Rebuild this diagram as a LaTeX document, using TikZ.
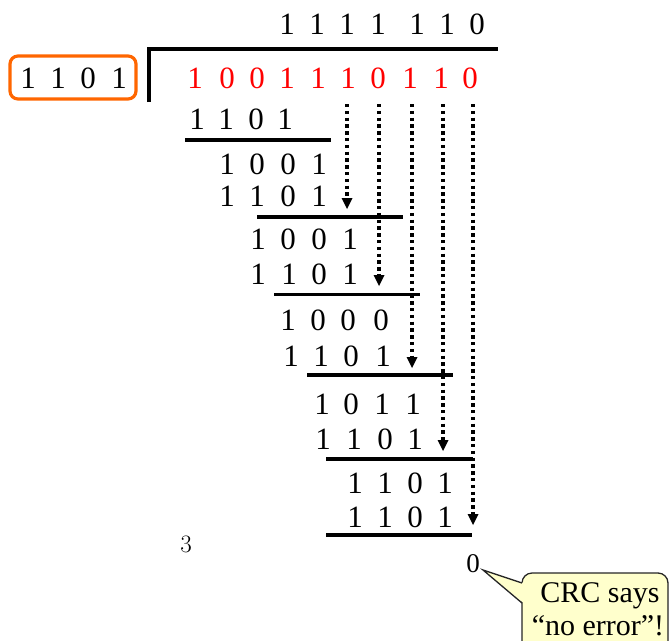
\documentclass[tikz,border=0pt]{standalone}
\usepackage{fontspec}
\setmainfont{Liberation Serif}
\newfontfamily\lmfont{Latin Modern Roman}
\usetikzlibrary{arrows.meta}
\definecolor{divred}{RGB}{255,0,0}
\definecolor{boxorange}{RGB}{255,102,0}
\definecolor{noteyellow}{RGB}{255,255,204}
\tikzset{
  bit/.style={anchor=base, inner sep=0pt, font=\fontsize{31}{36}\selectfont},
  redbit/.style={bit, text=divred},
  rule/.style={line width=3.4pt},
  bringdown/.style={line width=3.5pt, dash pattern=on 3.4pt off 3.4pt,
    -{Triangle[width=11pt,length=11pt,line width=0pt]}},
  notebox/.style={draw=black!85, line width=1.3pt, fill=noteyellow},
  notetext/.style={anchor=base, inner sep=0pt, font=\fontsize{30}{34}\selectfont},
}
\newcommand{\bitrow}[3]{% name prefix, baseline, list x/digit
  \foreach \x/\d [count=\i] in {#3} {\node[bit] (#1\i) at (\x,#2) {\d};}}
\begin{document}
\begin{tikzpicture}[x=1pt,y=-1pt]
\useasboundingbox (0,0) rectangle (671,640);
\clip (0,0) rectangle (671,640);

% quotient
\bitrow{q}{34}{287/1,317/1,347/1,378/1,417/1,447/1,477/0}

% division bracket
\draw[rule] (149,102) -- (149,49) -- (498,49);

% divisor (generator)
\bitrow{g}{88}{28/1,58/1,88/0,119/1}
\draw[boxorange, line width=3.2pt, rounded corners=8pt] (10,56) rectangle (136,99);

% dividend (message + CRC)
\foreach \x/\d [count=\i] in {195/1,227/0,257/0,287/1,318/1,348/1,378/0,410/1,441/1,470/0}
  {\node[redbit] (r\i) at (\x,88) {\d};}

% long division steps
\bitrow{a}{129}{197/1,226/1,256/0,285/1}
\draw[rule] (185,140) -- (331,140);
\bitrow{b}{174}{227/1,257/0,288/0,319/1}
\bitrow{c}{206}{227/1,257/1,288/0,319/1}
\draw[rule] (257,217) -- (403,217);
\bitrow{d}{249}{258/1,288/0,319/0,350/1}
\bitrow{e}{284}{258/1,289/1,319/0,350/1}
\draw[rule] (274,294.5) -- (420,294.5);
\bitrow{f}{330}{288/1,318/0,348/0,381/0}
\bitrow{h}{366}{291/1,321/1,351/0,383/1}
\draw[rule] (307,375) -- (453,375);
\bitrow{k}{414}{322/1,351/0,382/1,413/1}
\bitrow{m}{449}{323/1,354/1,385/0,415/1}
\draw[rule] (326,459) -- (473,459);
\bitrow{n}{493}{355/1,385/1,415/0,445/1}
\bitrow{p}{527}{355/1,385/1,415/0,445/1}
\draw[rule] (326,535) -- (472,535);

% bring-down arrows
\foreach \i/\x/\y in {6/347/209, 7/379/286, 8/412/368, 9/443/451, 10/473/525} {
  \coordinate (s\i) at (\x,104);
  \coordinate (t\i) at (\x,\y);
  \draw[bringdown] (s\i) -- (t\i);
}

% remainder and side note
\node[anchor=base, inner sep=0pt, font=\lmfont\fontsize{25}{30}\selectfont] (three) at (186,552) {3};
\node[anchor=base, inner sep=0pt, font=\fontsize{27}{30}\selectfont] (rem) at (473,572) {0};
\coordinate (tip) at (483,570);
\coordinate (pu) at (522,583);
\coordinate (pl) at (522,603);
\draw[notebox, rounded corners=10pt] (522,573) rectangle (668,680);
\fill[noteyellow] ([xshift=1.6pt]pu) -- (tip) -- ([xshift=1.6pt]pl) -- cycle;
\draw[black!85, line width=1.3pt, line join=miter] (pu) -- (tip) -- (pl);
\node[notetext] (say1) at (600,602) {CRC says};
\node[notetext] (say2) at (598,635) {“no error”!};
\end{tikzpicture}
\end{document}
